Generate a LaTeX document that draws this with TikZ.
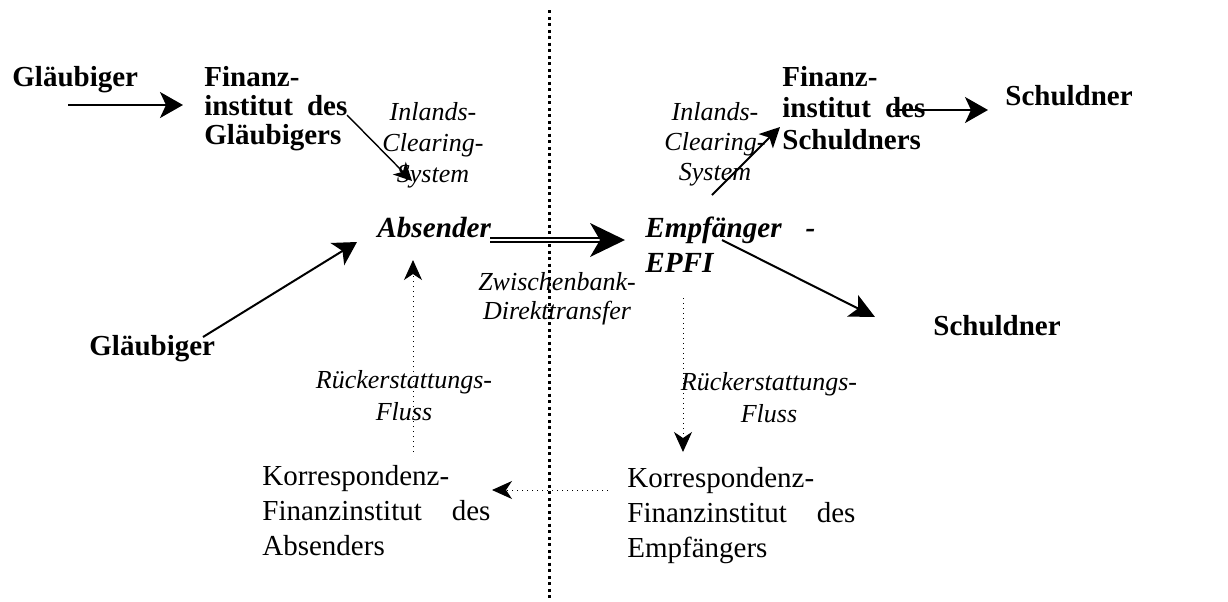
\documentclass[tikz,border=0pt]{standalone}
\usepackage{fontspec}
\setmainfont{Liberation Serif}
\usetikzlibrary{arrows.meta}
\begin{document}
\begin{tikzpicture}[x=0.5pt,y=-0.5pt,
  bld/.style={inner sep=0pt,anchor=base west,font=\fontsize{14.5}{14.5}\selectfont\bfseries},
  bldpar/.style={bld,text width=#1,align=left},
  bit/.style={inner sep=0pt,anchor=base west,text width=#1,align=left,font=\fontsize{14.6}{17.5}\selectfont\bfseries\itshape},
  lbl/.style={inner sep=0pt,anchor=base,text width=100pt,align=center,font=\fontsize{13}{#1}\selectfont\itshape},
  korr/.style={inner sep=0pt,anchor=base west,text width=114pt,align=left,font=\fontsize{14.5}{17.5}\selectfont},
  thickarr/.style={line width=1pt,-{Stealth[length=11.5pt,width=13pt,inset=3pt]}},
  thinarr/.style={line width=0.7pt,-{Stealth[length=9pt,width=9pt,inset=2.5pt]}},
  dotarr/.style={line width=0.5pt,dotted,-{Stealth[length=10pt,width=9pt,inset=3pt]}},
  sep/.style={line width=1.5pt,dash pattern=on 1.5pt off 1.75pt}
]
\useasboundingbox (0,0) rectangle (1228,601);

% separator
\coordinate (septop) at (549,10);
\coordinate (sepbot) at (549,601);
\draw[sep] (septop) -- (sepbot);

% nodes
\node[bld] (g1) at (12,86) {Gläubiger};
\node[bldpar=71.5pt] (fg) at (204,86) {Finanz-\\institut\hfill des\\Gläubigers};
\node[lbl=15.5pt] (inl1) at (433,120) {Inlands-\\Clearing-\\System};
\node[bit=60pt] (abs) at (377,237) {Absender};
\node[bit=85pt] (emp) at (645,237) {Empfänger\hfill -\\EPFI};
\node[lbl=14.5pt] (zw) at (557,290) {Zwischenbank-\\Direkttransfer};
\node[bld] (g2) at (89,355) {Gläubiger};
\node[bld] (s2) at (933,335) {Schuldner};
\node[lbl=16pt] (r1) at (404,388) {Rückerstattungs-\\Fluss};
\node[lbl=16pt] (r2) at (769,390) {Rückerstattungs-\\Fluss};
\node[korr] (k1) at (262,485) {Korrespondenz-\\Finanzinstitut\hfill des\\Absenders};
\node[korr] (k2) at (627,487) {Korrespondenz-\\Finanzinstitut\hfill des\\Empfängers};
\node[lbl=15pt] (inl2) at (715,120) {Inlands-\\Clearing-\\System};
\node[bldpar=71.5pt,font=\fontsize{14.5}{15.8}\selectfont\bfseries] (fs) at (782,86) {Finanz-\\institut\hfill des\\Schuldners};
\node[bld] (s1) at (1005,105) {Schuldner};

% connector end points
\coordinate (a1s) at (68,105);  \coordinate (a1e) at (183,105);
\coordinate (a2s) at (347,115); \coordinate (a2e) at (412,181);
\coordinate (a3s) at (203,337); \coordinate (a3e) at (357,242);
\coordinate (a4s) at (490,240); \coordinate (a4m) at (601,240); \coordinate (a4e) at (625,240);
\coordinate (a5s) at (722,240); \coordinate (a5e) at (875,317);
\coordinate (a6s) at (683,298); \coordinate (a6e) at (683,452);
\coordinate (a7s) at (413,452); \coordinate (a7e) at (413,260);
\coordinate (a8s) at (608,490); \coordinate (a8e) at (492,490);
\coordinate (a9s) at (712,195); \coordinate (a9e) at (780,127);
\coordinate (a10s) at (893,110); \coordinate (a10e) at (988,110);

% connectors
\draw[thickarr] (a1s) -- (a1e);
\draw[thinarr] (a2s) -- (a2e);
\draw[thickarr] (a3s) -- (a3e);
\draw[line width=1pt,double,double distance=1.2pt] (a4s) -- (a4m);
\fill (a4e) -- ++(-35,-17) -- ++(10,17) -- ++(-10,17) -- cycle;
\draw[thickarr,-{Stealth[length=12.5pt,width=12pt,inset=3pt]}] (a5s) -- (a5e);
\draw[dotarr] (a6s) -- (a6e);
\draw[dotarr] (a7s) -- (a7e);
\draw[dotarr] (a8s) -- (a8e);
\draw[line width=0.9pt,-{Stealth[length=10pt,width=10pt,inset=2.5pt]}] (a9s) -- (a9e);
\draw[thickarr] (a10s) -- (a10e);
\end{tikzpicture}
\end{document}
